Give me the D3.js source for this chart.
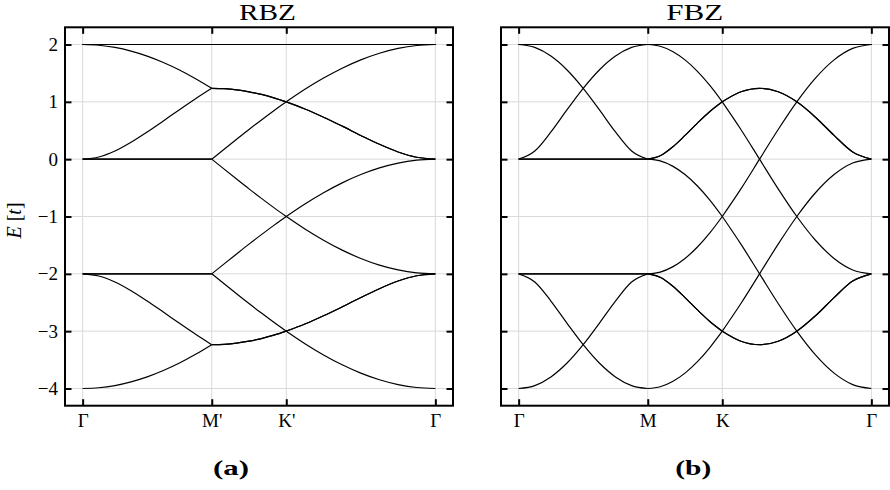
<!DOCTYPE html>
<html>
<head>
<meta charset="utf-8">
<script src="https://cdn.jsdelivr.net/npm/d3@7"></script>
<style>
  body { margin: 0; background: #fff; }
  text { font-family: "Liberation Serif", "DejaVu Serif", serif; fill: #000; }
</style>
</head>
<body>
<svg id="fig" width="890" height="490"></svg>
<script>
// Path coordinate along Γ–M–K–Γ (Γ–M: 9 samples, M–K: 6 more, K–Γ: 8 more)
const kPath = [0, 0.0722, 0.1443, 0.2165, 0.2887, 0.3608, 0.4330, 0.5052, 0.5774,
  0.6329, 0.6885, 0.7440, 0.7996, 0.8551, 0.9107,
  0.9940, 1.0774, 1.1607, 1.2440, 1.3274, 1.4107, 1.4940, 1.5774];
// index ranges of the three straight legs of the path
const legs = [[0, 8], [8, 14], [14, 22]];

const kTicks = [0, 0.5774, 0.9107, 1.5774];
const kLabelsRBZ = ["Γ", "M'", "K'", "Γ"];
const kLabelsFBZ = ["Γ", "M", "K", "Γ"];
const eTicks = [2, 1, 0, -1, -2, -3, -4];

// flat band at E = 2t (fourfold)
const flatBand = [2, 2, 2, 2, 2, 2, 2, 2, 2, 2, 2, 2, 2, 2, 2, 2, 2, 2, 2, 2, 2, 2, 2];

// reduced zone, path Γ–M'–K'–Γ
const rbz1 = [2, 1.987, 1.949, 1.885, 1.798, 1.687, 1.556, 1.404, 1.236, 1.229, 1.209, 1.175, 1.129, 1.070, 1, 1.218, 1.414, 1.587, 1.732, 1.848, 1.932, 1.983, 2];
const rbz2 = [0, 0.038, 0.142, 0.294, 0.474, 0.667, 0.863, 1.054, 1.236, 1.229, 1.209, 1.175, 1.129, 1.070, 1, 0.876, 0.732, 0.576, 0.414, 0.259, 0.126, 0.034, 0];
const rbz3 = [0, 0, 0, 0, 0, 0, 0, 0, 0, 0.174, 0.347, 0.518, 0.684, 0.845, 1, 0.876, 0.732, 0.576, 0.414, 0.259, 0.126, 0.034, 0];
const rbz4 = [0, 0, 0, 0, 0, 0, 0, 0, 0, -0.174, -0.347, -0.518, -0.684, -0.845, -1, -0.783, -0.586, -0.413, -0.268, -0.152, -0.068, -0.017, 0];
const rbz5 = [-2, -2, -2, -2, -2, -2, -2, -2, -2, -1.826, -1.653, -1.482, -1.316, -1.155, -1, -1.218, -1.414, -1.587, -1.732, -1.848, -1.932, -1.983, -2];
const rbz6 = [-2, -2, -2, -2, -2, -2, -2, -2, -2, -2.174, -2.347, -2.518, -2.684, -2.845, -3, -2.876, -2.732, -2.576, -2.414, -2.259, -2.126, -2.034, -2];
const rbz7 = [-2, -2.038, -2.142, -2.294, -2.474, -2.667, -2.863, -3.054, -3.236, -3.229, -3.209, -3.175, -3.129, -3.070, -3, -2.876, -2.732, -2.576, -2.414, -2.259, -2.126, -2.034, -2];
const rbz8 = [-4, -3.987, -3.949, -3.885, -3.798, -3.687, -3.556, -3.404, -3.236, -3.229, -3.209, -3.175, -3.129, -3.070, -3, -3.218, -3.414, -3.587, -3.732, -3.848, -3.932, -3.983, -4];

// full zone, path Γ–M–K–Γ
const fbz1 = [2, 1.949, 1.798, 1.556, 1.236, 0.863, 0.474, 0.142, 0, -0.030, -0.121, -0.268, -0.468, -0.714, -1, -0.518, 0, 0.518, 1, 1.414, 1.732, 1.932, 2];
const fbz2 = [-4, -3.949, -3.798, -3.556, -3.236, -2.863, -2.474, -2.142, -2, -1.970, -1.879, -1.732, -1.532, -1.286, -1, -1.482, -2, -2.518, -3, -3.414, -3.732, -3.932, -4];
const fbz3 = [0, 0.142, 0.474, 0.863, 1.236, 1.556, 1.798, 1.949, 2, 1.970, 1.879, 1.732, 1.532, 1.286, 1, 0.518, 0, -0.518, -1, -1.414, -1.732, -1.932, -2];
const fbz4 = [0, 0, 0, 0, 0, 0, 0, 0, 0, 0.059, 0.212, 0.414, 0.629, 0.830, 1, 1.175, 1.236, 1.175, 1, 0.732, 0.414, 0.126, 0];
const fbz5 = [-2, -2.142, -2.474, -2.863, -3.236, -3.556, -3.798, -3.949, -4, -3.970, -3.879, -3.732, -3.532, -3.286, -3, -2.518, -2, -1.482, -1, -0.586, -0.268, -0.068, 0];
const fbz6 = [-2, -2, -2, -2, -2, -2, -2, -2, -2, -2.059, -2.212, -2.414, -2.629, -2.830, -3, -3.175, -3.236, -3.175, -3, -2.732, -2.414, -2.126, -2];

// twelve bands per panel (degenerate ones listed once per copy)
const bandsRBZ = [flatBand, flatBand, flatBand, flatBand, rbz1, rbz2, rbz3, rbz4, rbz5, rbz6, rbz7, rbz8];
const bandsFBZ = [flatBand, flatBand, flatBand, flatBand, fbz1, fbz2, fbz3, fbz4, fbz4, fbz5, fbz6, fbz6];

// ---- layout ----
const svg = d3.select("#fig");
const plotW = 388, plotTop = 27.3, plotBottom = 405.7;
const kDomain = [-0.0789, 1.6563];
const y = d3.scaleLinear().domain([-4.3, 2.3]).range([plotBottom, plotTop]);

const panels = [
  { left: 65,  title: "RBZ", titleX: 267.5, tag: "(a)", tagX: 231, labels: kLabelsRBZ, bands: bandsRBZ, showE: true },
  { left: 501, title: "FBZ", titleX: 694.7, tag: "(b)", tagX: 693.3, labels: kLabelsFBZ, bands: bandsFBZ, showE: false }
];

panels.forEach(p => {
  const x = d3.scaleLinear().domain(kDomain).range([p.left, p.left + plotW]);
  const g = svg.append("g");

  // grid
  g.append("g").selectAll("line").data(kTicks).join("line")
    .attr("x1", d => x(d)).attr("x2", d => x(d))
    .attr("y1", plotTop).attr("y2", plotBottom)
    .attr("stroke", "#dadada").attr("stroke-width", 1);
  g.append("g").selectAll("line").data(eTicks).join("line")
    .attr("x1", p.left).attr("x2", p.left + plotW)
    .attr("y1", d => y(d)).attr("y2", d => y(d))
    .attr("stroke", "#dadada").attr("stroke-width", 1);

  // bands, one smooth piece per leg of the path
  const line = d3.line().x(d => x(d[0])).y(d => y(d[1])).curve(d3.curveMonotoneX);
  const bandG = g.append("g").attr("fill", "none").attr("stroke", "#000").attr("stroke-width", 1.2);
  p.bands.forEach(band => {
    legs.forEach(([a, b]) => {
      const pts = d3.range(a, b + 1).map(i => [kPath[i], band[i]]);
      bandG.append("path").attr("d", line(pts));
    });
  });

  // axes with inward ticks on all four sides
  const tickLen = 6.5;
  const styleAxis = sel => {
    sel.select(".domain").remove();
    sel.selectAll(".tick line").attr("stroke", "#000").attr("stroke-width", 2);
    sel.selectAll(".tick text").style("font-family", "'Liberation Serif', serif").style("font-size", "19px");
  };
  g.append("g").attr("transform", `translate(0,${plotBottom})`)
    .call(d3.axisBottom(x).tickValues(kTicks).tickFormat((d, i) => p.labels[i]).tickSizeInner(-tickLen).tickSizeOuter(0).tickPadding(8))
    .call(styleAxis);
  g.append("g").attr("transform", `translate(0,${plotTop})`)
    .call(d3.axisTop(x).tickValues(kTicks).tickFormat("").tickSizeInner(-tickLen).tickSizeOuter(0))
    .call(styleAxis);
  g.append("g").attr("transform", `translate(${p.left},0)`)
    .call(d3.axisLeft(y).tickValues(eTicks).tickFormat(p.showE ? d3.format("d") : "").tickSizeInner(-tickLen).tickSizeOuter(0).tickPadding(7))
    .call(styleAxis);
  g.append("g").attr("transform", `translate(${p.left + plotW},0)`)
    .call(d3.axisRight(y).tickValues(eTicks).tickFormat("").tickSizeInner(-tickLen).tickSizeOuter(0))
    .call(styleAxis);

  // frame
  g.append("rect")
    .attr("x", p.left).attr("y", plotTop)
    .attr("width", plotW).attr("height", plotBottom - plotTop)
    .attr("fill", "none").attr("stroke", "#000").attr("stroke-width", 2);

  // title and panel tag
  g.append("text").attr("x", p.titleX).attr("y", 20)
    .attr("text-anchor", "middle").style("font-size", "24px")
    .attr("textLength", 57).attr("lengthAdjust", "spacingAndGlyphs")
    .text(p.title);
  g.append("text").attr("x", p.tagX).attr("y", 475)
    .attr("text-anchor", "middle").style("font-size", "22px").style("font-weight", "bold")
    .attr("textLength", 36).attr("lengthAdjust", "spacingAndGlyphs")
    .text(p.tag);

  if (p.showE) {
    const lab = g.append("text")
      .attr("transform", `translate(21,${(plotTop + plotBottom) / 2 + 4}) rotate(-90)`)
      .attr("text-anchor", "middle").style("font-size", "20px");
    lab.append("tspan").style("font-style", "italic").text("E");
    lab.append("tspan").text(" [");
    lab.append("tspan").style("font-style", "italic").text("t");
    lab.append("tspan").text("]");
  }
});
</script>
</body>
</html>
